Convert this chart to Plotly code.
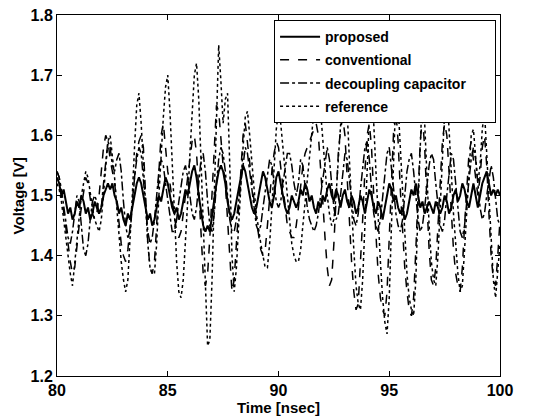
import numpy as np
import plotly.graph_objects as go

time_ns = np.round(np.arange(80.0, 100.0001, 0.1), 1)

proposed = [
    1.53, 1.52, 1.50, 1.51, 1.49, 1.47, 1.48, 1.46, 1.47, 1.49,
    1.48, 1.50, 1.49, 1.47, 1.48, 1.46, 1.47, 1.49, 1.48, 1.47,
    1.48, 1.50, 1.51, 1.52, 1.51, 1.52, 1.50, 1.49, 1.47, 1.48,
    1.46, 1.45, 1.47, 1.46, 1.48, 1.50, 1.52, 1.53, 1.52, 1.50,
    1.48, 1.46, 1.47, 1.45, 1.46, 1.48, 1.50, 1.49, 1.51, 1.53,
    1.52, 1.50, 1.48, 1.47, 1.48, 1.46, 1.47, 1.49, 1.51, 1.50,
    1.52, 1.54, 1.55, 1.53, 1.50, 1.47, 1.45, 1.44, 1.45, 1.44,
    1.47, 1.50, 1.52, 1.54, 1.55, 1.54, 1.52, 1.49, 1.47, 1.46,
    1.47, 1.49, 1.51, 1.53, 1.55, 1.54, 1.52, 1.50, 1.48, 1.47,
    1.48, 1.50, 1.52, 1.54, 1.53, 1.51, 1.49, 1.48, 1.50, 1.53,
    1.54, 1.52, 1.50, 1.48, 1.47, 1.48, 1.50, 1.49, 1.48, 1.49,
    1.51, 1.50, 1.52, 1.51, 1.49, 1.50, 1.48, 1.47, 1.49, 1.48,
    1.50, 1.49, 1.51, 1.52, 1.50, 1.49, 1.51, 1.50, 1.48, 1.50,
    1.51, 1.49, 1.48, 1.50, 1.49, 1.47, 1.48, 1.50, 1.49, 1.47,
    1.49, 1.51, 1.50, 1.48, 1.47, 1.49, 1.48, 1.46, 1.48, 1.50,
    1.52, 1.51, 1.49, 1.50, 1.48, 1.47, 1.48, 1.46, 1.47, 1.49,
    1.51, 1.50, 1.52, 1.50, 1.48, 1.49, 1.47, 1.48, 1.49, 1.48,
    1.47, 1.49, 1.48, 1.47, 1.48, 1.50, 1.49, 1.47, 1.48, 1.50,
    1.51, 1.49, 1.50, 1.52, 1.51, 1.49, 1.48, 1.50, 1.52, 1.50,
    1.48, 1.50, 1.52, 1.53, 1.54, 1.52, 1.50, 1.51, 1.50, 1.51,
    1.50,
]

conventional = [
    1.54, 1.53, 1.50, 1.47, 1.45, 1.42, 1.39, 1.37, 1.38, 1.42,
    1.45, 1.48, 1.51, 1.53, 1.52, 1.49, 1.47, 1.46, 1.47, 1.50,
    1.54, 1.58, 1.60, 1.59, 1.56, 1.54, 1.52, 1.49, 1.45, 1.42,
    1.40, 1.39, 1.41, 1.45, 1.50, 1.54, 1.57, 1.59, 1.60, 1.58,
    1.50, 1.42, 1.38, 1.37, 1.39, 1.45, 1.54, 1.60, 1.62, 1.58,
    1.54, 1.52, 1.49, 1.46, 1.44, 1.43, 1.44, 1.47, 1.50, 1.53,
    1.56, 1.59, 1.60, 1.57, 1.51, 1.44, 1.37, 1.35, 1.37, 1.43,
    1.51, 1.59, 1.65, 1.64, 1.59, 1.55, 1.52, 1.46, 1.38, 1.34,
    1.36, 1.42, 1.49, 1.55, 1.60, 1.62, 1.59, 1.55, 1.52, 1.49,
    1.46, 1.43, 1.41, 1.40, 1.41, 1.45, 1.50, 1.54, 1.57, 1.59,
    1.58, 1.55, 1.51, 1.48, 1.45, 1.44, 1.43, 1.43, 1.45, 1.48,
    1.52, 1.55, 1.57, 1.58, 1.59, 1.60, 1.61, 1.62, 1.60, 1.55,
    1.49, 1.43, 1.38, 1.35, 1.36, 1.42, 1.50, 1.57, 1.61, 1.63,
    1.60, 1.53, 1.45, 1.39, 1.34, 1.31, 1.32, 1.38, 1.46, 1.54,
    1.60, 1.62, 1.58, 1.50, 1.43, 1.37, 1.33, 1.31, 1.30, 1.34,
    1.43, 1.53, 1.61, 1.64, 1.59, 1.51, 1.44, 1.38, 1.34, 1.31,
    1.30, 1.33, 1.41, 1.51, 1.59, 1.63, 1.58, 1.49, 1.41, 1.36,
    1.35, 1.38, 1.45, 1.53, 1.59, 1.62, 1.60, 1.54, 1.47, 1.41,
    1.37, 1.35, 1.34, 1.38, 1.45, 1.52, 1.57, 1.59, 1.56, 1.52,
    1.50, 1.53, 1.58, 1.60, 1.55, 1.47, 1.40, 1.36, 1.35, 1.40,
    1.46,
]

decoupling = [
    1.54, 1.53, 1.51, 1.48, 1.45, 1.43, 1.42, 1.44, 1.47, 1.50,
    1.49, 1.45, 1.41, 1.40, 1.42, 1.46, 1.49, 1.50, 1.49, 1.47,
    1.48, 1.52, 1.56, 1.59, 1.58, 1.55, 1.54, 1.56, 1.57, 1.54,
    1.49, 1.45, 1.43, 1.44, 1.48, 1.53, 1.56, 1.58, 1.57, 1.53,
    1.48, 1.44, 1.42, 1.43, 1.46, 1.50, 1.54, 1.56, 1.55, 1.52,
    1.49, 1.46, 1.44, 1.44, 1.46, 1.49, 1.52, 1.54, 1.55, 1.53,
    1.50, 1.47, 1.46, 1.48, 1.52, 1.56, 1.57, 1.54, 1.49, 1.45,
    1.44, 1.47, 1.52, 1.56, 1.58, 1.57, 1.54, 1.50, 1.46, 1.44,
    1.44, 1.46, 1.49, 1.53, 1.56, 1.58, 1.57, 1.54, 1.50, 1.47,
    1.45, 1.44, 1.45, 1.48, 1.51, 1.54, 1.56, 1.55, 1.52, 1.49,
    1.48, 1.49, 1.52, 1.55, 1.57, 1.57, 1.55, 1.52, 1.50, 1.52,
    1.56, 1.55, 1.51, 1.48, 1.46, 1.45, 1.44, 1.45, 1.47, 1.50,
    1.53, 1.56, 1.58, 1.56, 1.52, 1.48, 1.46, 1.47, 1.50, 1.54,
    1.57, 1.56, 1.53, 1.49, 1.46, 1.45, 1.47, 1.51, 1.55, 1.58,
    1.59, 1.56, 1.51, 1.47, 1.45, 1.44, 1.46, 1.50, 1.54, 1.57,
    1.58, 1.55, 1.51, 1.47, 1.45, 1.44, 1.46, 1.50, 1.54, 1.56,
    1.57, 1.54, 1.50, 1.46, 1.44, 1.45, 1.48, 1.52, 1.55, 1.57,
    1.56, 1.52, 1.48, 1.45, 1.44, 1.46, 1.50, 1.54, 1.57, 1.56,
    1.52, 1.47, 1.44, 1.43, 1.45, 1.49, 1.53, 1.56, 1.58, 1.56,
    1.52, 1.48, 1.46, 1.47, 1.50, 1.53, 1.55, 1.53, 1.49, 1.46,
    1.45,
]

reference = [
    1.52, 1.51, 1.49, 1.46, 1.43, 1.40, 1.37, 1.35, 1.39, 1.43,
    1.47, 1.50, 1.52, 1.54, 1.53, 1.50, 1.48, 1.46, 1.45, 1.44,
    1.46, 1.50, 1.55, 1.59, 1.60, 1.57, 1.53, 1.48, 1.43, 1.39,
    1.36, 1.34, 1.36, 1.42, 1.50, 1.58, 1.65, 1.67, 1.62, 1.55,
    1.48, 1.42, 1.38, 1.37, 1.37, 1.42, 1.50, 1.57, 1.63, 1.68,
    1.70, 1.64, 1.55, 1.46, 1.39, 1.34, 1.33, 1.36, 1.42, 1.49,
    1.57, 1.64, 1.70, 1.72, 1.66, 1.56, 1.45, 1.34, 1.25, 1.26,
    1.36, 1.50, 1.65, 1.75, 1.69, 1.62, 1.66, 1.67, 1.55, 1.40,
    1.34, 1.38, 1.45, 1.52, 1.58, 1.63, 1.64, 1.60, 1.55, 1.51,
    1.47, 1.44, 1.42, 1.40, 1.38, 1.38, 1.42, 1.48, 1.55, 1.61,
    1.64, 1.62, 1.58, 1.54, 1.50, 1.46, 1.42, 1.40, 1.39, 1.39,
    1.41, 1.45, 1.49, 1.53, 1.57, 1.61, 1.64, 1.66, 1.67, 1.64,
    1.59, 1.54, 1.50, 1.47, 1.45, 1.46, 1.50, 1.56, 1.62, 1.67,
    1.69, 1.64, 1.56, 1.48, 1.41, 1.35, 1.32, 1.31, 1.36, 1.45,
    1.55, 1.63, 1.67, 1.62, 1.54, 1.46, 1.39, 1.33, 1.29, 1.27,
    1.33, 1.45, 1.58, 1.67, 1.65, 1.58, 1.50, 1.43, 1.37, 1.33,
    1.31, 1.30, 1.36, 1.48, 1.60, 1.68, 1.62, 1.53, 1.45, 1.39,
    1.36, 1.35, 1.40, 1.48, 1.57, 1.64, 1.68, 1.62, 1.54, 1.47,
    1.41, 1.37, 1.34, 1.35, 1.41, 1.48, 1.55, 1.60, 1.61, 1.56,
    1.52, 1.55, 1.61, 1.64, 1.57, 1.48, 1.41, 1.36, 1.33, 1.37,
    1.42,
]

series_names = ["proposed", "conventional", "decoupling capacitor", "reference"]
series_values = [proposed, conventional, decoupling, reference]
series_dash = ["solid", "dash", "dashdot", "dot"]
series_width = [2.0, 1.5, 1.5, 1.5]

x_ticks = [80, 85, 90, 95, 100]
y_ticks = [1.2, 1.3, 1.4, 1.5, 1.6, 1.7, 1.8]
y_tick_labels = ["1.2", "1.3", "1.4", "1.5", "1.6", "1.7", "1.8"]

# extra right padding inside the legend box (as in the reference)
legend_pad = "\u00a0" * 6

fig = go.Figure()
for i, (name, vals, dash, w) in enumerate(zip(series_names, series_values, series_dash, series_width)):
    label = name + legend_pad if name == "decoupling capacitor" else name
    fig.add_trace(go.Scatter(
        x=time_ns, y=vals, mode="lines", name=label,
        line=dict(color="black", dash=dash, width=w),
        legendgroup=f"g{i}",
    ))

FAM = "Liberation Sans, Arial, sans-serif"
title_font = dict(family=FAM, size=15, color="black", weight="bold")
tick_font = dict(family=FAM, size=16, color="black", weight="bold")

fig.update_layout(
    width=533, height=417,
    margin=dict(l=57, r=33, t=15, b=41, autoexpand=False),
    paper_bgcolor="white", plot_bgcolor="white",
    font=dict(family=FAM, size=14, color="black"),
    showlegend=True,
    legend=dict(
        x=0.49, y=0.986, xanchor="left", yanchor="top",
        bgcolor="white", bordercolor="black", borderwidth=1,
        font=dict(family=FAM, size=14, color="black", weight="bold"),
        traceorder="grouped", tracegroupgap=2, itemwidth=40,
    ),
    annotations=[dict(
        text="Voltage [V]", textangle=-90, showarrow=False,
        xref="paper", yref="paper", x=-0.086, y=0.5,
        xanchor="center", yanchor="middle", font=title_font,
    )],
)
fig.update_xaxes(
    range=[80, 100], tickvals=x_ticks, ticktext=[str(v) for v in x_ticks],
    showline=True, linecolor="black", linewidth=1, mirror="ticks",
    ticks="inside", ticklen=5, tickcolor="black",
    showgrid=False, zeroline=False, automargin=False,
    title=dict(text="Time [nsec]", standoff=0, font=title_font),
    tickfont=tick_font,
)
fig.update_yaxes(
    range=[1.2, 1.8], tickvals=y_ticks, ticktext=y_tick_labels,
    showline=True, linecolor="black", linewidth=1, mirror="ticks",
    ticks="inside", ticklen=5, tickcolor="black",
    showgrid=False, zeroline=False, automargin=False,
    tickfont=tick_font,
)

fig.write_html("out.html", config={"displayModeBar": False},
               post_script="document.body.style.margin='0';")
